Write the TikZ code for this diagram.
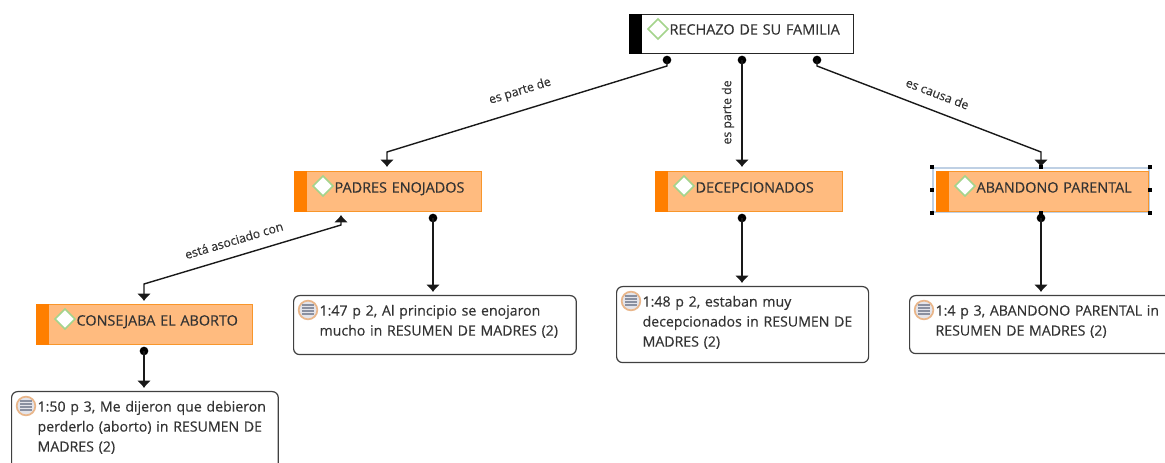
\documentclass[tikz,border=0pt]{standalone}
\usepackage{fontspec}
\setmainfont{Open Sans}[RawFeature={embolden=0.35}]
\usepackage{tikz}
\usetikzlibrary{calc,arrows.meta}
\definecolor{boxfill}{HTML}{FFBB7F}
\definecolor{boxline}{HTML}{F8962B}
\definecolor{boxbar}{HTML}{FF7F00}
\definecolor{codegreen}{HTML}{A4D48C}
\definecolor{noteline}{HTML}{E9B68A}
\definecolor{notefill}{HTML}{E4E4EA}
\definecolor{noterule}{HTML}{8A90A0}
\definecolor{txtgray}{HTML}{333333}
\definecolor{selblue}{HTML}{BFD0E4}
\tikzset{
    >={Latex[length=5.5pt,width=10.5pt]},
    conceptbase/.style={draw, line width=0.9pt, text=txtgray, inner xsep=0pt, inner ysep=0pt,
        align=left, anchor=north west, font=\fontsize{10.8}{13}\selectfont,
        execute at begin node={\hspace*{30pt}}},
    rootbox/.style={conceptbase, draw=black!85, fill=white, text height=15pt, text depth=14.25pt},
    orangebox/.style={conceptbase, draw=boxline, fill=boxfill, text height=15.75pt, text depth=14.25pt},
    notebox/.style={draw=black!75, line width=0.9pt, fill=white, rounded corners=4.5pt, text=txtgray,
        inner xsep=0pt, inner ysep=0pt, align=left, anchor=north west, text height=15pt,
        font=\fontsize{10.6}{15}\selectfont,
        execute at begin node={\leftskip=19.5pt\relax}},
    conceptmark/.style={codegreen, fill=white, line width=1.1pt},
    notemark/.style={noteline, fill=notefill, line width=1.3pt},
    noterules/.style={noterule, line width=1.1pt},
    link/.style={black!90, line width=1.05pt},
    linklabel/.style={text=txtgray, font=\fontsize{9.2}{10}\selectfont, inner sep=0pt},
    linkdot/.style={circle, fill=black, inner sep=0pt, minimum size=6.5pt}
}
\begin{document}
\begin{tikzpicture}[x=0.75pt,y=-0.75pt]
    \clip (0,0) rectangle (1165,463);

    % Selection frame behind the selected box
    \node[draw=selblue, line width=2pt, minimum width=162pt, minimum height=33pt, inner sep=0pt] (selframe) at (1041,190) {};

    % Concept boxes
    \node[rootbox, text width=168pt] (rechazo) at (629,14) {RECHAZO DE SU FAMILIA};
    \node[orangebox, text width=140pt] (padres) at (294,171) {PADRES ENOJADOS};
    \node[orangebox, text width=140pt] (decep) at (655,171) {DECEPCIONADOS};
    \node[orangebox, text width=159pt] (abandono) at (936,171) {ABANDONO PARENTAL};
    \node[orangebox, text width=162pt] (consejaba) at (36,304) {CONSEJABA EL ABORTO};

    % Side bars and diamonds of the concept boxes
    \foreach \nm/\barcol in {rechazo/black,padres/boxbar,decep/boxbar,abandono/boxbar,consejaba/boxbar} {
        \fill[\barcol] (\nm.north west) rectangle ($(\nm.south west)+(13,0)$);
        \draw[conceptmark] ($(\nm.north west)+(19,15)$) -- ++(10,-10) -- ++(10,10) -- ++(-10,10) -- cycle;
    }

    % Quotation boxes
    \node[notebox, text width=212pt, text depth=29.25pt] (nota47) at (293,295) {1:47 p 2, Al principio se enojaron\\mucho in RESUMEN DE MADRES (2)};
    \node[notebox, text width=189pt, text depth=42pt] (nota48) at (616,286) {1:48 p 2, estaban muy\\decepcionados in RESUMEN DE\\MADRES (2)};
    \node[notebox, text width=230pt, text depth=28.5pt] (nota4) at (909,295) {1:4 p 3, ABANDONO PARENTAL in\\RESUMEN DE MADRES (2)};
    \node[notebox, text width=200pt, text depth=50pt] (nota50) at (11,391) {1:50 p 3, Me dijeron que debieron\\perderlo (aborto) in RESUMEN DE\\MADRES (2)};

    % Icons of the quotation boxes
    \foreach \nm in {nota47,nota48,nota4,nota50} {
        \draw[notemark] ($(\nm.north west)+(15,15)$) circle (7pt);
        \foreach \ly in {10,13,16,19}
            \draw[noterules] ($(\nm.north west)+(9,\ly)$) -- ++(12,0);
    }

    % Start dots and ends of the links
    \node[linkdot] (dotpadres) at (667,60) {};
    \node[linkdot] (dotdecep) at (742,60) {};
    \node[linkdot] (dotaband) at (817,60) {};
    \node[linkdot] (dotnota47) at (433,218) {};
    \node[linkdot] (dotnota48) at (742,218) {};
    \node[linkdot] (dotnota4) at (1041,218) {};
    \node[linkdot] (dotnota50) at (144,351) {};
    \coordinate (endpadres) at (387,167);
    \coordinate (enddecep) at (742,167);
    \coordinate (endaband) at (1041,167);
    \coordinate (endasoc) at (341,215);
    \coordinate (endconsej) at (144,301);

    % Links
    \draw[link,->] (dotpadres.center) -- (667,66) -- node[linklabel, sloped, above=9pt, pos=.505] (lblparte) {es parte de} (387,152) -- (endpadres);
    \draw[link,->] (dotdecep.center) -- node[linklabel, xshift=-10.5pt, rotate=90, pos=.49] (lblparteb) {es parte de} (enddecep);
    \draw[link,->] (dotaband.center) -- (817,66) -- node[linklabel, sloped, above=9pt, pos=.51] (lblcausa) {es causa de} (1041,152) -- (endaband);
    \draw[link,<->] (endasoc) -- (341,225) -- node[linklabel, sloped, above=8pt, pos=.52] (lblasoc) {está asociado con} (144,284) -- (endconsej);
    \draw[link,->] (dotnota47.center) -- (433,292);
    \draw[link,->] (dotnota48.center) -- (742,283);
    \draw[link,->] (dotnota4.center) -- (1041,292);
    \draw[link,->] (dotnota50.center) -- (144,388);

    % Handles of the selection
    \foreach \hnd in {north west,north,north east,east,south east,south,south west,west}
        \fill[black] ($(selframe.\hnd)+(-2,-2)$) rectangle +(4,4);
\end{tikzpicture}
\end{document}
